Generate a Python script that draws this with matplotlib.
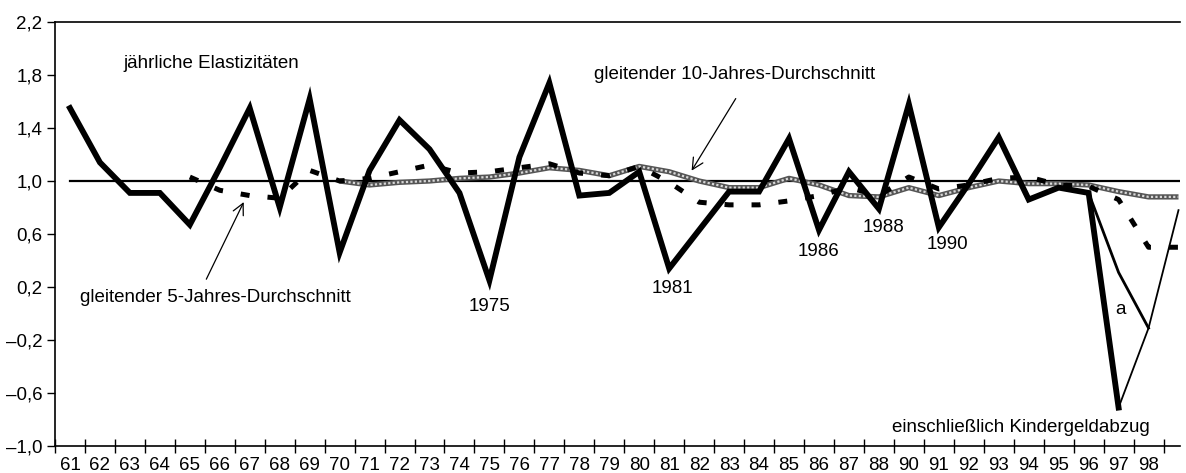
import matplotlib
matplotlib.use("Agg")
import matplotlib.pyplot as plt
import numpy as np

plt.rcParams["font.family"] = ["Liberation Sans", "DejaVu Sans"]
plt.rcParams["axes.unicode_minus"] = True

# year index 0 = 1961 ... 37 = 1998
tick_labels = ["61", "62", "63", "64", "65", "66", "67", "68", "69", "70",
               "71", "72", "73", "74", "75", "76", "77", "78", "79", "80",
               "81", "82", "83", "84", "85", "86", "87", "88", "90", "91",
               "92", "93", "94", "95", "96", "97", "98"]

# annual elasticities 1961-1996 (incl. Kindergeldabzug)
elast = [1.55, 1.14, 0.91, 0.91, 0.67, 1.10, 1.55, 0.80, 1.62, 0.46,
         1.08, 1.46, 1.24, 0.91, 0.25, 1.18, 1.74, 0.89, 0.91, 1.07,
         0.34, 0.63, 0.92, 0.92, 1.32, 0.63, 1.07, 0.79, 1.58, 0.65,
         0.98, 1.33, 0.86, 0.95, 0.91, -0.71]
# continuation 1996-1998
tail_idx = [35, 36, 37]
tail = [-0.71, -0.11, 0.78]
# variant a, 1995-1997
var_a_idx = [34, 35, 36]
var_a = [0.91, 0.31, -0.11]

# 5-year moving average, 1965-1998
ma5 = [1.03, 0.93, 0.89, 0.87, 1.08, 1.00, 1.02, 1.07, 1.12, 1.06,
       1.07, 1.10, 1.13, 1.06, 1.04, 1.11, 0.99, 0.84, 0.82, 0.82,
       0.85, 0.89, 0.95, 0.89, 1.03, 0.94, 0.97, 1.02, 1.03, 0.97,
       0.96, 0.86, 0.50, 0.50]
# 10-year moving average, 1970-1998
ma10 = [1.00, 0.97, 0.99, 1.00, 1.02, 1.03, 1.06, 1.10, 1.08, 1.04,
        1.11, 1.07, 1.00, 0.95, 0.95, 1.02, 0.97, 0.89, 0.88, 0.95,
        0.89, 0.95, 1.00, 0.98, 0.98, 0.97, 0.92, 0.88, 0.88]

x_el = np.arange(len(elast))
x_ma5 = np.arange(4, 4 + len(ma5))
x_ma10 = np.arange(9, 9 + len(ma10))

fig = plt.figure(figsize=(11.86, 4.73), dpi=100)
ax = fig.add_axes([55 / 1186, 27 / 473, 1125 / 1186, 424 / 473])

ax.plot([0, 37.05], [1.0, 1.0], color="black", lw=1.6, zorder=2)

# 10-year average: textured grey band
ax.plot(x_ma10, ma10, color="#555555", lw=3.8, zorder=3, solid_capstyle="butt")
ax.plot(x_ma10, ma10, color="#d8d8d8", lw=1.6, ls=(0, (1, 1)), zorder=3.1)

ax.plot(x_ma5, ma5, color="black", lw=3.6, ls=(0, (1.8, 3.6)), zorder=4)

ax.plot(x_el, elast, color="black", lw=4.2, zorder=5, solid_joinstyle="miter")
ax.plot(tail_idx, tail, color="black", lw=1.3, zorder=5)
ax.plot(var_a_idx, var_a, color="black", lw=2.0, zorder=5)

ax.set_xlim(-0.5, 37.05)
ax.set_ylim(-1.0, 2.2)

yt = np.arange(-1.0, 2.21, 0.4)
ax.set_yticks(yt)
ax.set_yticklabels([f"{v:.1f}".replace(".", ",").replace("-", "\u2013") for v in yt])
ax.set_xticks(np.arange(37))
ax.set_xticklabels(tick_labels)
ax.set_xticks(np.arange(-0.5, 37, 1.0), minor=True)
ax.tick_params(axis="x", which="major", length=0, pad=8, labelsize=13.5)
ax.tick_params(axis="x", which="minor", length=10, direction="inout", width=1)
ax.tick_params(axis="y", length=6, width=1, labelsize=13.5, pad=3)

ax.spines["right"].set_visible(False)
for s in ["left", "top", "bottom"]:
    ax.spines[s].set_linewidth(1.2)

fs = 13.5
ax.text(1.77, 1.89, "jährliche Elastizitäten", fontsize=fs, va="center")
ax.text(17.5, 1.80, "gleitender 10-Jahres-Durchschnitt", fontsize=fs, va="center")
ax.text(0.33, 0.12, "gleitender 5-Jahres-Durchschnitt", fontsize=fs, va="center")
ax.text(14.0, 0.05, "1975", fontsize=fs, ha="center", va="center")
ax.text(20.1, 0.19, "1981", fontsize=fs, ha="center", va="center")
ax.text(25.0, 0.47, "1986", fontsize=fs, ha="center", va="center")
ax.text(27.15, 0.65, "1988", fontsize=fs, ha="center", va="center")
ax.text(29.3, 0.52, "1990", fontsize=fs, ha="center", va="center")
ax.text(35.05, 0.03, "a", fontsize=fs, ha="center", va="center")
ax.text(31.75, -0.86, "einschließlich Kindergeldabzug", fontsize=fs, ha="center", va="center")

arrow = dict(arrowstyle="->", color="black", lw=0.9, mutation_scale=20)
ax.annotate("", xy=(20.7, 1.06), xytext=(22.27, 1.64), arrowprops=arrow)
ax.annotate("", xy=(5.84, 0.86), xytext=(4.51, 0.24), arrowprops=arrow)

fig.savefig("out.png", dpi=100)
